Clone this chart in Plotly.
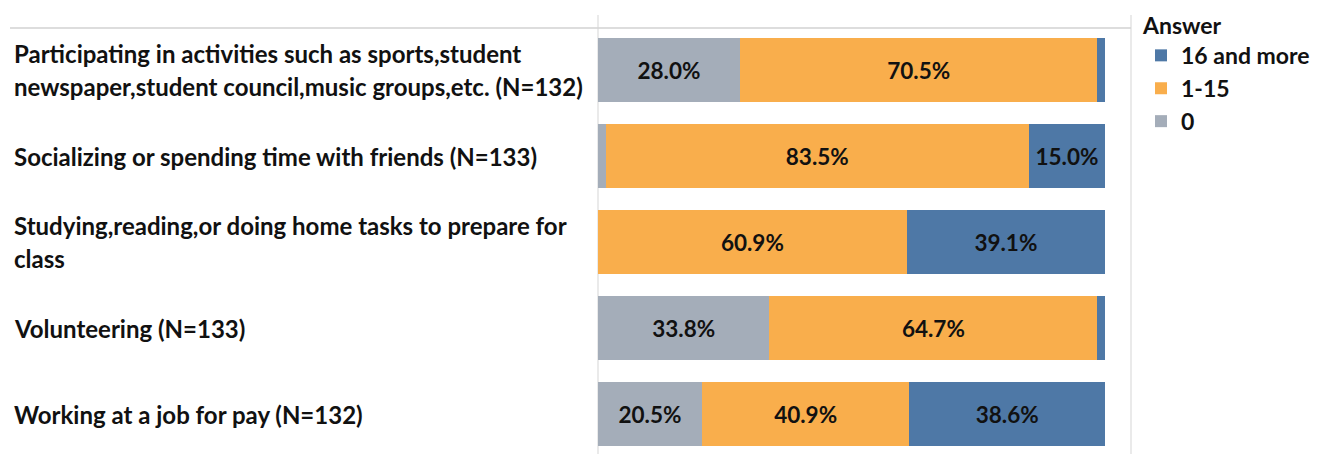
import plotly.graph_objects as go

categories = [
    "Participating in activities such as sports,student<br>newspaper,student council,music groups,etc. (N=132)",
    "Socializing or spending time with friends (N=133)",
    "Studying,reading,or doing home tasks to prepare for<br>class",
    "Volunteering (N=133)",
    "Working at a job for pay (N=132)",
]
answers = ["0", "1-15", "16 and more"]
vals_0 = [28.0, 1.5, 0.0, 33.8, 20.5]
vals_1_15 = [70.5, 83.5, 60.9, 64.7, 40.9]
vals_16 = [1.5, 15.0, 39.1, 1.5, 38.6]
colors = ["#A4ADB9", "#F9AE4C", "#4E78A6"]

FONT = "Lato"
W, H = 1328, 454
L, R, T, B = 598, 198, 27, 0
PW = W - L - R
XMAX = 100 * PW / 507.0

fig = go.Figure()
for name, vals, col in zip(answers, [vals_0, vals_1_15, vals_16], colors):
    fig.add_trace(go.Bar(
        y=categories, x=vals, name=name, orientation="h",
        marker=dict(color=col, line=dict(width=0)),
        text=[f"{v:.1f}%" if v >= 5 else "" for v in vals],
        textposition="inside", insidetextanchor="middle",
        textfont=dict(family=FONT, size=22.5, color="#111111", weight="bold"),
        hoverinfo="skip",
    ))

def px2paper_x(px):
    return (px - L) / PW

def px2paper_y(py):
    return 1 - (py - T) / (H - T - B)

annotations = []
for cat in categories:
    lines = cat.split("<br>")
    n = len(lines)
    for i, line in enumerate(lines):
        shift = (n - 1) * 16.5 - i * 33
        annotations.append(dict(
            x=px2paper_x(12), xref="paper", y=cat, yref="y",
            text=line, showarrow=False, xanchor="left", yanchor="middle",
            yshift=shift, font=dict(family=FONT, size=24, color="#111111", weight="bold"),
        ))

shapes = [
    dict(type="line", xref="paper", yref="paper", x0=px2paper_x(10), x1=px2paper_x(1131),
         y0=px2paper_y(28), y1=px2paper_y(28), line=dict(color="#DDDDDD", width=2), layer="below"),
    dict(type="line", xref="paper", yref="paper", x0=0, x1=0,
         y0=px2paper_y(15), y1=px2paper_y(454), line=dict(color="#D5D5D5", width=1), layer="below"),
    dict(type="line", xref="paper", yref="paper", x0=px2paper_x(1131), x1=px2paper_x(1131),
         y0=px2paper_y(15), y1=px2paper_y(454), line=dict(color="#D5D5D5", width=1), layer="below"),
]

fig.update_layout(
    width=W, height=H,
    margin=dict(l=L, r=R, t=T, b=B, pad=0),
    barmode="stack", bargap=0.256,
    plot_bgcolor="white", paper_bgcolor="white",
    xaxis=dict(range=[0, XMAX], showgrid=False, showticklabels=False, zeroline=False,
               showline=False, ticks=""),
    yaxis=dict(range=[4.465, -0.5], showgrid=False, showticklabels=False, zeroline=False,
               showline=False, ticks=""),
    showlegend=True,
    legend=dict(
        title=dict(text="Answer", font=dict(family=FONT, size=23, color="#111111", weight="bold")),
        traceorder="reversed", x=px2paper_x(1141), xanchor="left",
        y=px2paper_y(4), yanchor="top",
        font=dict(family=FONT, size=23, color="#111111", weight="bold"),
        bgcolor="rgba(0,0,0,0)", itemsizing="constant", tracegroupgap=0,
    ),
    annotations=annotations, shapes=shapes,
    uniformtext=dict(mode="show", minsize=10),
)

fig.write_html("out.html", config={"displayModeBar": False},
               post_script="document.body.style.margin='0';")
